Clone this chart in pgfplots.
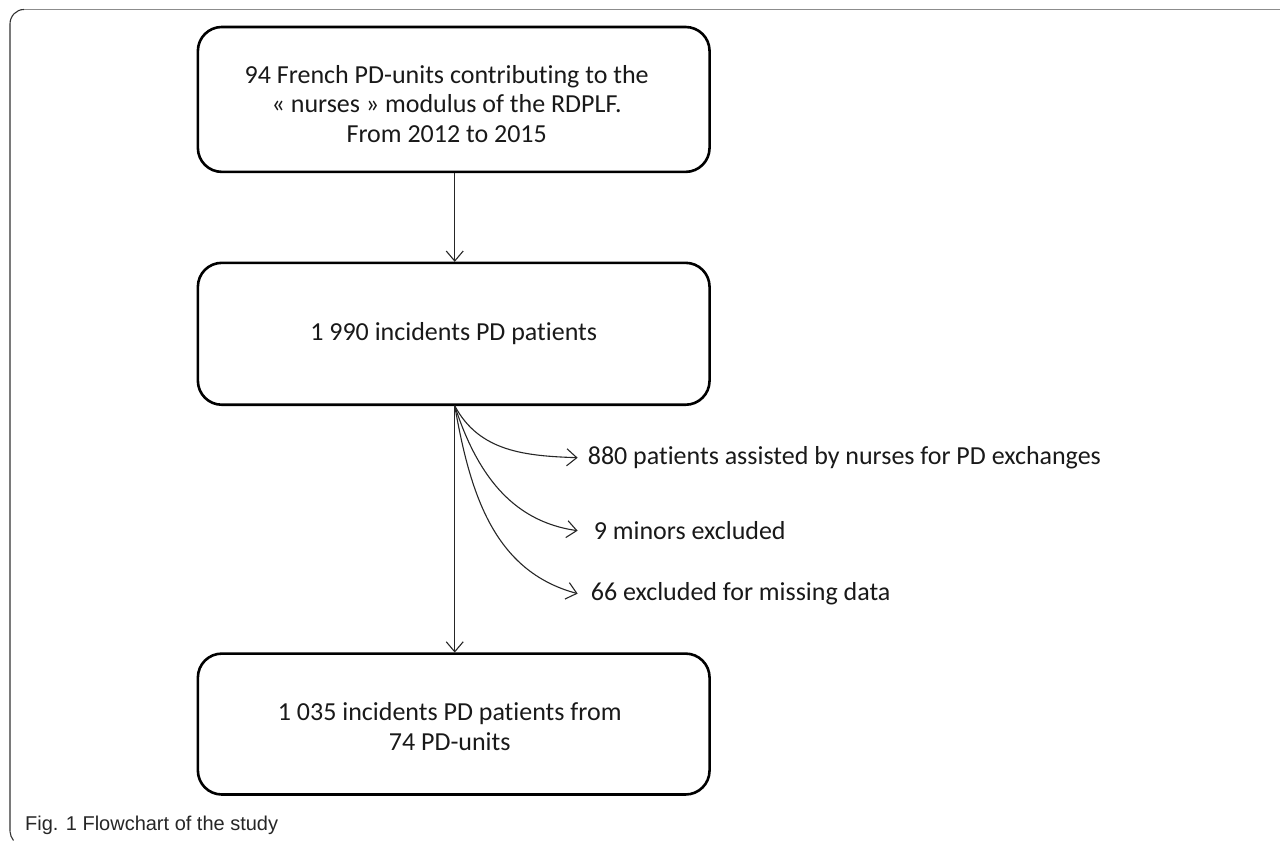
\documentclass[border=0pt]{standalone}
\usepackage{fontspec}
\setmainfont{Carlito}[Ligatures=NoCommon]
\newfontfamily\capfont{Liberation Sans}
\usepackage{pgfplots}
\pgfplotsset{compat=1.18}
\usetikzlibrary{arrows.meta}
\begin{document}
\begin{tikzpicture}
\begin{axis}[width=1281pt,height=842pt,scale only axis,hide axis,
  xmin=0,xmax=1281,ymin=0,ymax=842,y dir=reverse,clip=false]
\path (axis cs:0,0) rectangle (axis cs:1281,842);
% outer frame
\draw[black!45, line width=1.6pt] (axis cs:24,9.5) -- (axis cs:1281,9.5);
\draw[black!80, line width=1.1pt] (axis cs:10,832) -- (axis cs:10,24) to[out=90,in=180] (axis cs:24,9.5);
\draw[black!80, line width=1.1pt] (axis cs:10,832) to[out=-90,in=120] (axis cs:13.5,841);
% boxes
\draw[line width=2.6pt, rounded corners=24pt] (axis cs:198,27) rectangle (axis cs:710,172);
\draw[line width=2.6pt, rounded corners=24pt] (axis cs:198,263) rectangle (axis cs:710,405);
\draw[line width=2.6pt, rounded corners=24pt] (axis cs:198,654) rectangle (axis cs:710,795);
% box texts
\node[font=\fontsize{26}{29.5}\selectfont, align=center, text=black!90] at (axis cs:447,104)
  {94 French PD-units contributing to the\\« nurses » modulus of the RDPLF.\\From 2012 to 2015};
\node[font=\fontsize{26}{29.5}\selectfont, align=center, text=black!90] at (axis cs:454,334)
  {1 990 incidents PD patients};
\node[font=\fontsize{26}{29.5}\selectfont, align=center, text=black!90] at (axis cs:450,727)
  {1 035 incidents PD patients from\\74 PD-units};
% straight connectors
\addplot[line width=1.1pt, black!85, -{Straight Barb[length=10pt,width=17pt]}] coordinates {(455,173) (455,262)};
\addplot[line width=1.1pt, black!85, -{Straight Barb[length=10pt,width=17pt]}] coordinates {(455,406) (455,653)};
% curved exclusions
\draw[line width=1.1pt, black!85, -{Straight Barb[length=10pt,width=17pt]}] (axis cs:455,406) to[out=-62,in=178] (axis cs:578,458);
\draw[line width=1.1pt, black!85, -{Straight Barb[length=10pt,width=17pt]}] (axis cs:455,406) to[out=-72,in=172] (axis cs:578,531);
\draw[line width=1.1pt, black!85, -{Straight Barb[length=10pt,width=17pt]}] (axis cs:455,406) to[out=-80,in=165] (axis cs:578,594);
% exclusion texts
\node[font=\fontsize{26}{29.5}\selectfont, anchor=west, inner sep=0pt, text=black!90] at (axis cs:588,458) {880 patients assisted by nurses for PD exchanges};
\node[font=\fontsize{26}{29.5}\selectfont, anchor=west, inner sep=0pt, text=black!90] at (axis cs:594,531) {9 minors excluded};
\node[font=\fontsize{26}{29.5}\selectfont, anchor=west, inner sep=0pt, text=black!90] at (axis cs:591,594) {66 excluded for missing data};
% caption
\node[font=\capfont\fontsize{20}{24}\selectfont, anchor=base west, inner sep=0pt, text=black!85] at (axis cs:25,831) {Fig. 1 Flowchart of the study};
\end{axis}
\end{tikzpicture}
\end{document}
